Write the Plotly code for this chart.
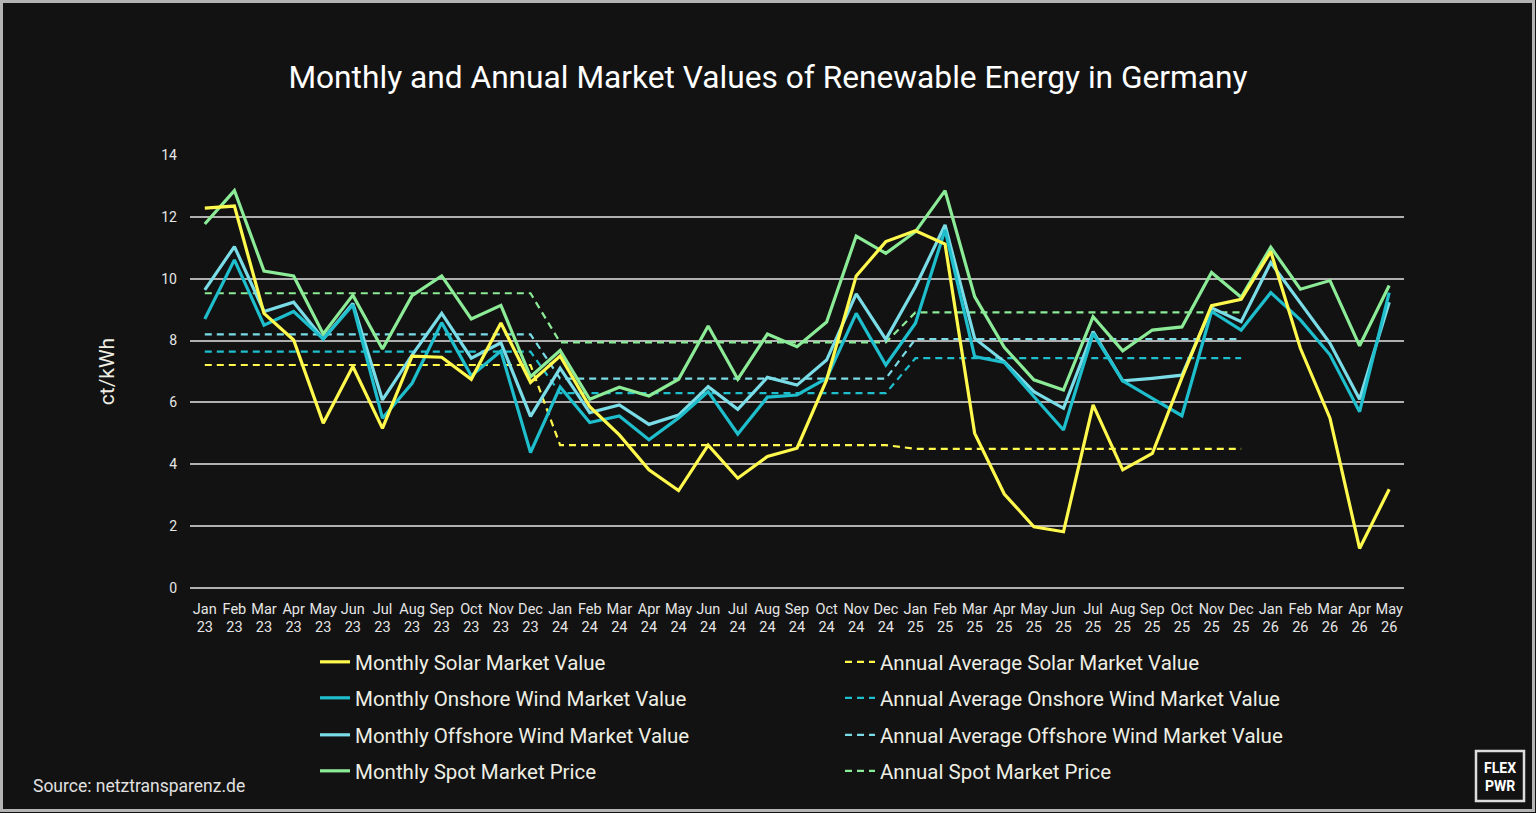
import plotly.graph_objects as go

# ---------------- data ----------------
month_names = ["Jan", "Feb", "Mar", "Apr", "May", "Jun", "Jul", "Aug", "Sep", "Oct", "Nov", "Dec"]
years = ["23", "24", "25", "26"]
months = [f"{m} {y}" for y in years for m in month_names][:41]   # Jan 23 .. May 26
tick_text = [m.replace(" ", "<br>") for m in months]

solar = [12.28, 12.35, 8.88, 8.02, 5.33, 7.16, 5.16, 7.50, 7.46, 6.75, 8.57, 6.65,
         7.50, 5.86, 4.95, 3.82, 3.15, 4.62, 3.55, 4.25, 4.52, 6.73, 10.09, 11.20,
         11.55, 11.12, 5.00, 3.04, 1.98, 1.82, 5.92, 3.82, 4.35, 6.80, 9.13, 9.33,
         10.88, 7.75, 5.49, 1.28, 3.19]
onshore = [8.70, 10.61, 8.50, 8.94, 8.05, 9.15, 5.49, 6.62, 8.58, 6.86, 7.66, 4.38,
           6.50, 5.35, 5.56, 4.79, 5.50, 6.35, 4.98, 6.17, 6.24, 6.78, 8.88, 7.21,
           8.56, 11.58, 7.48, 7.29, 6.19, 5.11, 8.23, 6.70, 6.13, 5.57, 8.94, 8.34,
           9.55, 8.67, 7.54, 5.70, 9.55]
offshore = [9.64, 11.04, 8.94, 9.24, 8.05, 9.20, 6.08, 7.53, 8.88, 7.43, 7.93, 5.55,
            7.11, 5.67, 5.92, 5.29, 5.59, 6.51, 5.78, 6.81, 6.56, 7.37, 9.51, 8.04,
            9.74, 11.74, 8.07, 7.32, 6.35, 5.81, 8.29, 6.70, 6.78, 6.88, 9.06, 8.61,
            10.52, 9.20, 7.91, 6.10, 9.24]
spot = [11.77, 12.85, 10.25, 10.09, 8.21, 9.47, 7.73, 9.45, 10.09, 8.70, 9.14, 6.83,
        7.68, 6.10, 6.49, 6.21, 6.75, 8.47, 6.75, 8.21, 7.80, 8.60, 11.38, 10.82,
        11.52, 12.85, 9.42, 7.78, 6.73, 6.40, 8.77, 7.67, 8.34, 8.44, 10.20, 9.40,
        11.02, 9.66, 9.94, 7.83, 9.78]

# annual averages (2023, 2024, 2025)
avg_years = ["23", "24", "25"]
solar_avg = [7.21, 4.62, 4.50]
onshore_avg = [7.64, 6.30, 7.43]
offshore_avg = [8.20, 6.77, 8.05]
spot_avg = [9.53, 7.94, 8.91]


def annual_series(avgs):
    lookup = dict(zip(avg_years, avgs))
    return [lookup.get(m.split(" ")[1]) for m in months]


# ---------------- style ----------------
BG = "#121212"
C_SOLAR = "#FFF84D"
C_ON = "#1EBECD"
C_OFF = "#7ADCE6"
C_SPOT = "#8CEB96"
FONT = "Roboto"
TXT = "#EEEEE4"

# plot area in pixels
L, R, T, B = 190, 1404, 155, 588
W_PX, H_PX = 1536, 813


def px_x(px):
    return (px - L) / (R - L)


def px_y(py):
    return (B - py) / (B - T)


fig = go.Figure()

rows = [
    ("Monthly Solar Market Value", solar, "Annual Average Solar Market Value", solar_avg, C_SOLAR),
    ("Monthly Onshore Wind Market Value", onshore, "Annual Average Onshore Wind Market Value", onshore_avg, C_ON),
    ("Monthly Offshore Wind Market Value", offshore, "Annual Average Offshore Wind Market Value", offshore_avg, C_OFF),
    ("Monthly Spot Market Price", spot, "Annual Spot Market Price", spot_avg, C_SPOT),
]
legend_names = ["legend", "legend2", "legend3", "legend4"]

# dashed averages first (drawn below the monthly lines)
for i, (mn, mv, an, av, col) in enumerate(rows):
    fig.add_trace(go.Scatter(
        x=months, y=annual_series(av), name=an, mode="lines",
        line=dict(color=col, width=2.2, dash="7px,5px"),
        legend=legend_names[i], legendrank=2, hoverinfo="skip",
    ))
# monthly lines drawn in reverse order so solar is on top
for i in [3, 2, 1, 0]:
    mn, mv, an, av, col = rows[i]
    fig.add_trace(go.Scatter(
        x=months, y=mv, name=mn, mode="lines",
        line=dict(color=col, width=3.2),
        legend=legend_names[i], legendrank=1,
    ))

row_y = [662, 698, 735, 771]
legend_layout = {}
for i, ln in enumerate(legend_names):
    legend_layout[ln] = dict(
        orientation="h", x=px_x(315), xanchor="left", y=px_y(row_y[i]), yanchor="middle",
        entrywidth=480, bgcolor="rgba(0,0,0,0)",
        font=dict(family=FONT, size=20.5, color=TXT),
        traceorder="normal",
    )

fig.update_layout(
    width=W_PX, height=H_PX,
    paper_bgcolor=BG, plot_bgcolor=BG,
    margin=dict(l=L, r=W_PX - R, t=T, b=H_PX - B),
    title=dict(text="Monthly and Annual Market Values of Renewable Energy in Germany",
               x=0.5, xref="container", xanchor="center", y=1 - 77 / H_PX, yanchor="middle",
               font=dict(family=FONT, size=31.7, color="#FFFFFF")),
    font=dict(family=FONT, color=TXT),
    xaxis=dict(type="category", range=[-0.5, 40.5], tickmode="array",
               tickvals=months, ticktext=tick_text, showgrid=False, zeroline=False,
               showline=False, ticks="", ticklabelstandoff=10,
               tickfont=dict(family=FONT, size=14.5, color="#E6E6E6")),
    yaxis=dict(range=[0, 14], dtick=2, showgrid=True, gridcolor="#B0B0B0", gridwidth=1.5,
               zeroline=True, zerolinecolor="#B0B0B0", zerolinewidth=1.5, showline=False,
               ticks="", ticklabelstandoff=12,
               tickfont=dict(family=FONT, size=14, color="#E6E6E6"),
               title=dict(text="ct/kWh", standoff=40,
                          font=dict(family=FONT, size=21, color=TXT))),
    showlegend=True,
    **legend_layout,
)

# outer border
fig.add_shape(type="rect", xref="paper", yref="paper",
              x0=px_x(1.5), x1=px_x(W_PX - 2.5), y0=px_y(H_PX - 2.5), y1=px_y(1.5),
              line=dict(color="#B4B4B4", width=3), fillcolor="rgba(0,0,0,0)", layer="above")
# logo box
fig.add_shape(type="rect", xref="paper", yref="paper",
              x0=px_x(1476), x1=px_x(1524), y0=px_y(801), y1=px_y(751),
              line=dict(color="#DDDDDD", width=2.5), fillcolor="rgba(0,0,0,0)")
fig.add_annotation(text="<b>FLEX<br>PWR</b>", xref="paper", yref="paper",
                   x=px_x(1500), y=px_y(777), xanchor="center", yanchor="middle",
                   showarrow=False, font=dict(family=FONT, size=14, color="#FFFFFF"))
# source
fig.add_annotation(text="Source: netztransparenz.de", xref="paper", yref="paper",
                   x=px_x(31), y=px_y(786), xanchor="left", yanchor="middle",
                   showarrow=False, font=dict(family=FONT, size=17.5, color="#E0E0E0"))

fig.write_html("out.html")
